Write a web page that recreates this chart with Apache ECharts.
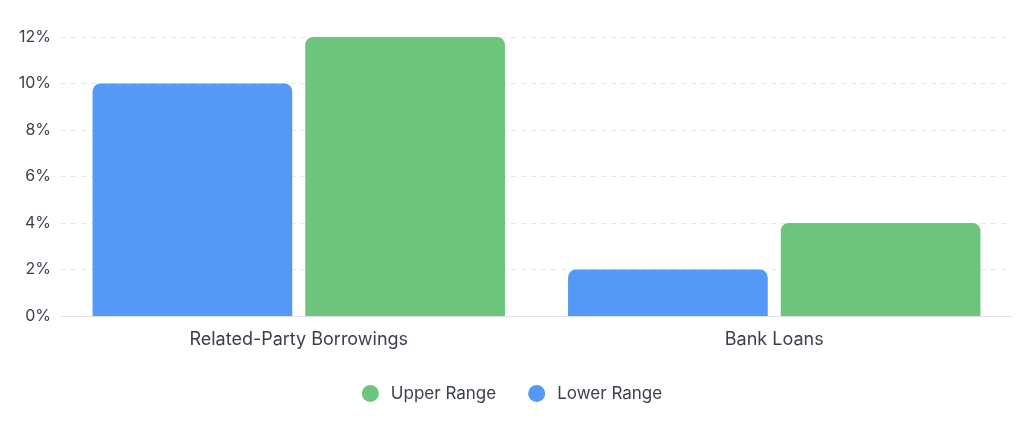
<!DOCTYPE html>
<html>
<head>
<meta charset="utf-8">
<script src="https://cdn.jsdelivr.net/npm/echarts@6/dist/echarts.min.js"></script>
<style>
html,body{margin:0;padding:0;background:#fff;}
#chart{width:1024px;height:422px;}
</style>
</head>
<body>
<div id="chart"></div>
<script>
const categories = ["Related-Party Borrowings", "Bank Loans"];
const lowerRange = [10, 2];
const upperRange = [12, 4];
const legendOrder = ["Upper Range", "Lower Range"];

const chart = echarts.init(document.getElementById('chart'), null, {renderer: 'canvas'});
const font = 'Inter, "Noto Sans", sans-serif';
const textColor = '#3b3f4c';
chart.setOption({
  animation: false,
  textStyle: {fontFamily: font},
  grid: {left: 61, right: 12, top: 37, bottom: 106, containLabel: false},
  legend: {
    data: legendOrder,
    top: 380,
    left: 'center',
    icon: 'circle',
    itemWidth: 17,
    itemHeight: 17,
    itemGap: 32,
    textStyle: {fontFamily: font, fontSize: 17, color: textColor, padding: [0, 0, 0, 7]}
  },
  xAxis: {
    type: 'category',
    data: categories,
    axisLine: {lineStyle: {color: '#e3e3e3'}},
    axisTick: {show: false},
    axisLabel: {fontFamily: font, fontSize: 18, color: textColor, margin: 15}
  },
  yAxis: {
    type: 'value',
    min: 0,
    max: 12,
    interval: 2,
    axisLine: {show: false},
    axisTick: {show: false},
    axisLabel: {fontFamily: font, fontSize: 16, color: textColor, margin: 10, formatter: '{value}%'},
    splitLine: {lineStyle: {color: '#e6e6e6', type: [5, 5]}}
  },
  series: [
    {
      name: 'Lower Range',
      type: 'bar',
      data: lowerRange,
      barWidth: '42%',
      barGap: '6.5%',
      itemStyle: {color: '#5499F6', borderRadius: [8, 8, 0, 0]}
    },
    {
      name: 'Upper Range',
      type: 'bar',
      data: upperRange,
      barWidth: '42%',
      barGap: '6.5%',
      itemStyle: {color: '#6DC47D', borderRadius: [8, 8, 0, 0]}
    }
  ]
});
</script>
</body>
</html>
